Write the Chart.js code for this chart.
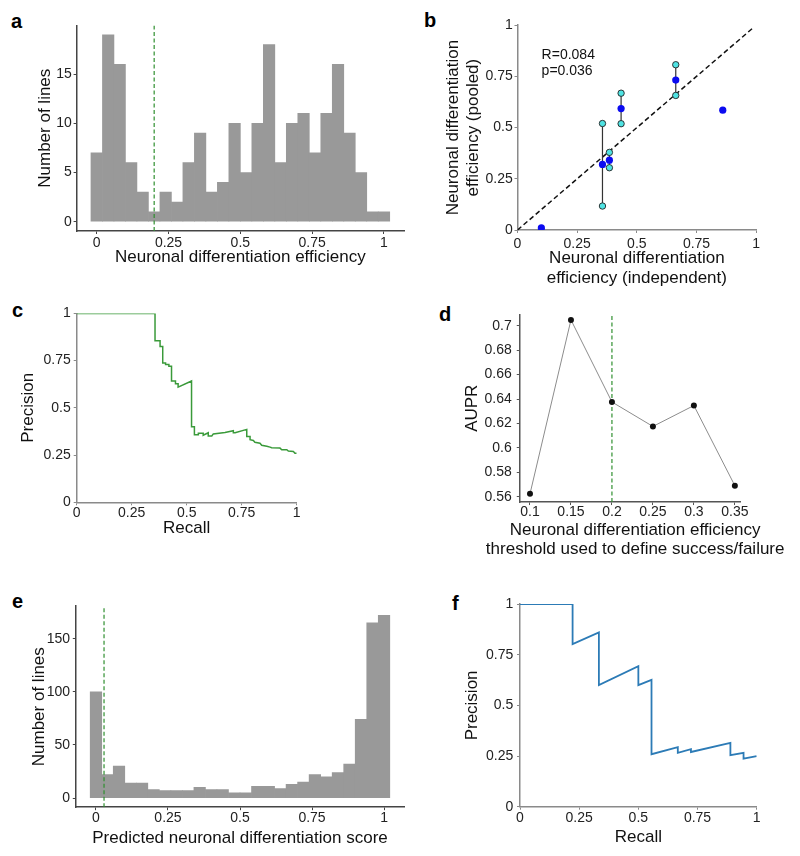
<!DOCTYPE html>
<html><head><meta charset="utf-8">
<script src="https://cdn.jsdelivr.net/npm/chart.js@4.4.1/dist/chart.umd.min.js"></script>
<style>
body{margin:0;background:#fff;}
#wrap{position:relative;width:800px;height:856px;overflow:hidden;background:#fff;}
canvas{position:absolute;}
.lbl{position:absolute;font:bold 20px "Liberation Sans",Arial,sans-serif;line-height:20px;color:#000;}
</style></head><body><div id="wrap">
<div class="lbl" style="left:11px;top:11px">a</div>
<div class="lbl" style="left:424px;top:10px">b</div>
<div class="lbl" style="left:12px;top:300px">c</div>
<div class="lbl" style="left:439px;top:304px">d</div>
<div class="lbl" style="left:12px;top:591px">e</div>
<div class="lbl" style="left:452px;top:593px">f</div>
<canvas id="ca"></canvas><canvas id="cb"></canvas><canvas id="cc"></canvas>
<canvas id="cd"></canvas><canvas id="ce"></canvas><canvas id="cf"></canvas>
</div>
<script>
// ---------------- DATA ----------------
// a: histogram of neuronal differentiation efficiency
const binCenters = [0,0.04,0.08,0.12,0.16,0.2,0.24,0.28,0.32,0.36,0.4,0.44,0.48,0.52,0.56,0.6,0.64,0.68,0.72,0.76,0.8,0.84,0.88,0.92,0.96,1];
const countsA = [7,19,16,6,3,1,3,2,6,9,3,4,10,5,10,18,6,10,11,7,11,16,9,5,1,1];
const thresholdA = 0.2;
const effTicks = [0,0.25,0.5,0.75,1];
const countTicksA = [0,5,10,15];
const rangeAx = [-0.07,1.07];
const rangeAy = [-0.95,19.95];

// b: independent vs pooled
const independentEff = [0.10,0.356,0.385,0.434,0.663,0.86];
const pooledEff      = [0.01,0.32,0.341,0.593,0.732,0.585];
const replicateLow   = [null,0.117,0.304,0.519,0.657,null];
const replicateHigh  = [null,0.52,0.379,0.668,0.807,null];
const identityLine   = [0,0.985];
const statLabels     = ['R=0.084','p=0.036'];
const unitTicks      = [0,0.25,0.5,0.75,1];

// c: precision-recall (green)
const recallC    = [0,0.356,0.356,0.379,0.379,0.391,0.391,0.404,0.404,0.419,0.419,0.431,0.431,0.449,0.449,0.461,0.461,0.522,0.522,0.535,0.535,0.553,0.553,0.575,0.575,0.598,0.598,0.614,0.621,0.674,0.712,0.712,0.720,0.773,0.773,0.788,0.788,0.803,0.810,0.833,0.841,0.864,0.879,0.886,0.924,0.932,0.955,0.962,0.985,0.992,1.0];
const precisionC = [1,1,0.855,0.855,0.825,0.825,0.737,0.737,0.729,0.729,0.72,0.72,0.642,0.642,0.627,0.627,0.61,0.642,0.40,0.40,0.358,0.358,0.365,0.365,0.355,0.368,0.351,0.351,0.362,0.370,0.379,0.368,0.368,0.386,0.348,0.348,0.331,0.327,0.318,0.313,0.302,0.297,0.292,0.289,0.287,0.278,0.278,0.271,0.269,0.26,0.26];

// d: AUPR vs threshold
const thresholds = [0.1,0.15,0.2,0.25,0.3,0.35];
const aupr = [0.5624,0.7048,0.6376,0.6176,0.6347,0.5691];
const thresholdD = 0.2;
const auprTicks = [0.56,0.58,0.6,0.62,0.64,0.66,0.68,0.7];
const threshTicks = [0.1,0.15,0.2,0.25,0.3,0.35];
const rangeDx = [0.0875,0.357];
const rangeDy = [0.5557,0.7093];
const titleDx = ['Neuronal differentiation efficiency','threshold used to define success/failure'];

// e: histogram of predicted score
const countsE = [100,22,30,14,14,8,7,7,7,10,8,8,5,5,11,11,9,13,15,22,20,24,32,74,165,172];
const thresholdE = 0.028;
const countTicksE = [0,50,100,150];
const rangeEy = [-8.6,180.6];

// f: precision-recall (blue)
const recallF    = [0,0.2222,0.2222,0.3333,0.3333,0.5,0.5,0.5556,0.5556,0.6667,0.6667,0.7222,0.7222,0.8889,0.8889,0.9444,0.9444,1.0];
const precisionF = [1,1,0.803,0.86,0.60,0.693,0.60,0.626,0.259,0.294,0.266,0.284,0.27,0.315,0.254,0.266,0.237,0.25];

// ---------------- HELPERS ----------------
const FONT = '"Liberation Sans", Arial, Helvetica, sans-serif';
Chart.defaults.font.family = FONT;
Chart.defaults.color = '#222';
Chart.defaults.animation = false;

function place(id, g) {
  const c = document.getElementById(id);
  const cl = Math.round(g.L - g.yW), ct = Math.round(g.T - g.padT);
  const w = Math.round(g.R + g.padR - cl), h = Math.round(g.B + g.xH - ct);
  c.width = w; c.height = h;
  c.style.left = cl + 'px'; c.style.top = ct + 'px';
  c.style.width = w + 'px'; c.style.height = h + 'px';
  g.yWe = g.L - cl; g.padTe = g.T - ct; g.padRe = (cl + w) - g.R; g.xHe = (ct + h) - g.B;
  return c;
}
function axis(o) {
  return {
    type: 'linear', min: o.min, max: o.max, offset: false, bounds: 'data',
    afterBuildTicks: s => { s.ticks = o.ticks.map(v => ({value: v})); },
    afterFit: s => { if (o.isX) s.height = o.size; else s.width = o.size; },
    ticks: { autoSkip: false, maxRotation: 0, minRotation: 0, padding: o.pad, color: '#222',
             font: {size: 14}, callback: v => String(v) },
    grid: { display: true, drawOnChartArea: false, drawTicks: true, tickLength: 3,
            tickWidth: 1, tickColor: o.color, offset: false },
    border: { display: true, color: o.color, width: o.bw || 1.5 },
    title: { display: o.title !== null, text: o.title || '', color: '#111', font: {size: 17}, padding: 0 }
  };
}
function baseOpts(g) {
  return {
    responsive: false, animation: false, devicePixelRatio: 1,
    layout: { padding: { left: 0, top: g.padTe, right: g.padRe, bottom: 0 } },
    plugins: { legend: { display: false }, tooltip: { enabled: false } }
  };
}
const GREEN_DASH = '#2f8f2f';

// ---------------- PANEL A ----------------
(function(){
  const g = {L:76.6, R:404.1, T:25.4, B:231.0, yW:41.8, xH:37.3, padT:10, padR:8};
  const c = place('ca', g);
  const o = baseOpts(g);
  o.scales = {
    x: axis({min:rangeAx[0], max:rangeAx[1], ticks:effTicks, isX:true, size:g.xHe, pad:0.9, color:'#444', title:'Neuronal differentiation efficiency'}),
    y: axis({min:rangeAy[0], max:rangeAy[1], ticks:countTicksA, size:g.yWe, pad:1.9, color:'#444', title:'Number of lines'})
  };
  new Chart(c, { type: 'bar', data: { datasets: [
    { type:'line', order:0, data:[{x:thresholdA,y:rangeAy[0]},{x:thresholdA,y:rangeAy[1]}],
      borderColor:GREEN_DASH, borderWidth:1.2, borderDash:[4,2.5], pointRadius:0 },
    { type:'bar', order:1, data: binCenters.map((x,i)=>({x, y:countsA[i]})),
      backgroundColor:'#999999', borderWidth:0, barPercentage:1, categoryPercentage:1 }
  ]}, options: o });
})();

// ---------------- PANEL B ----------------
(function(){
  const g = {L:517.5, R:756.2, T:25, B:230, yW:74.7, xH:58.9, padT:10, padR:10};
  const c = place('cb', g);
  const o = baseOpts(g);
  o.scales = {
    x: axis({min:0, max:1, ticks:unitTicks, isX:true, size:g.xHe, pad:3.1, color:'#8a8a8a',
             title:['Neuronal differentiation','efficiency (independent)']}),
    y: axis({min:0, max:1, ticks:unitTicks, size:g.yWe, pad:1.8, color:'#8a8a8a',
             title:['Neuronal differentiation','efficiency (pooled)']})
  };
  const ds = [];
  ds.push({ order:10, showLine:true, data: identityLine.map(v=>({x:v,y:v})),
            borderColor:'#111', borderWidth:1.5, borderDash:[5,3], pointRadius:0 });
  independentEff.forEach((x,i) => {
    if (replicateLow[i] === null) return;
    ds.push({ order:5, showLine:true, data:[{x, y:replicateLow[i]},{x, y:replicateHigh[i]}],
              borderColor:'#333', borderWidth:1.2, pointRadius:0 });
  });
  const cyan = [];
  independentEff.forEach((x,i) => { if (replicateLow[i] !== null) { cyan.push({x,y:replicateLow[i]}); cyan.push({x,y:replicateHigh[i]}); } });
  ds.push({ order:2, data:cyan, backgroundColor:'#4fe3e3', borderColor:'#222', borderWidth:0.9, pointRadius:3.2 });
  ds.push({ order:1, data: independentEff.map((x,i)=>({x, y:pooledEff[i]})),
            backgroundColor:'#0b0bf0', borderColor:'#0b0bf0', borderWidth:0, pointRadius:3.6 });
  const statPlugin = {
    id:'statText',
    afterDatasetsDraw(chart) {
      const {ctx, scales:{x, y}} = chart;
      const pos = [[0.101,0.855],[0.101,0.777]];
      ctx.save(); ctx.font = '14px ' + FONT; ctx.fillStyle = '#111';
      ctx.textAlign = 'left'; ctx.textBaseline = 'middle';
      statLabels.forEach((t,i) => ctx.fillText(t, x.getPixelForValue(pos[i][0]), y.getPixelForValue(pos[i][1])));
      ctx.restore();
    }
  };
  new Chart(c, { type:'scatter', data:{datasets:ds}, options:o, plugins:[statPlugin] });
})();

// ---------------- PANEL C ----------------
(function(){
  const g = {L:76.7, R:296.7, T:311.7, B:502.3, yW:58.6, xH:36.5, padT:10, padR:10};
  const c = place('cc', g);
  const o = baseOpts(g);
  o.scales = {
    x: axis({min:0, max:1, ticks:unitTicks, isX:true, size:g.xHe, pad:-0.4, color:'#8a8a8a', title:'Recall'}),
    y: axis({min:0, max:1, ticks:unitTicks, size:g.yWe, pad:3, color:'#8a8a8a', title:'Precision'})
  };
  new Chart(c, { type:'scatter', data:{datasets:[
    { showLine:true, data: recallC.map((x,i)=>({x, y:precisionC[i]})), borderColor:'#3a9a3a',
      borderWidth:1.5, pointRadius:0, tension:0 }
  ]}, options:o });
})();

// ---------------- PANEL D ----------------
(function(){
  const g = {L:519.75, R:740.6, T:310.7, B:502.06, yW:58.25, xH:58.5, padT:10, padR:50};
  const c = place('cd', g);
  const o = baseOpts(g);
  o.scales = {
    x: axis({min:rangeDx[0], max:rangeDx[1], ticks:threshTicks, isX:true, size:g.xHe, pad:-1.5, color:'#555', title:null}),
    y: axis({min:rangeDy[0], max:rangeDy[1], ticks:auprTicks, size:g.yWe, pad:5, color:'#555', title:'AUPR'})
  };
  // wide two-line x title (wider than the axis, so drawn without width squeeze)
  const wideTitle = {
    id:'wideTitle',
    afterDraw(chart) {
      const {ctx, scales:{x}} = chart;
      const cx = (x.left + x.right) / 2 + 5;
      ctx.save(); ctx.font = '17px ' + FONT; ctx.fillStyle = '#111';
      ctx.textAlign = 'center'; ctx.textBaseline = 'middle';
      titleDx.forEach((t,i) => ctx.fillText(t, cx, x.bottom - 30.6 + i * 19.4));
      ctx.restore();
    }
  };
  new Chart(c, { type:'scatter', data:{datasets:[
    { order:0, showLine:true, data: thresholds.map((x,i)=>({x, y:aupr[i]})), borderColor:'#8c8c8c',
      borderWidth:1, pointRadius:3, pointBackgroundColor:'#111', pointBorderColor:'#111', pointBorderWidth:0 },
    { order:1, showLine:true, data:[{x:thresholdD,y:rangeDy[0]},{x:thresholdD,y:rangeDy[1]}],
      borderColor:GREEN_DASH, borderWidth:1.2, borderDash:[4,2.5], pointRadius:0 }
  ]}, options:o, plugins:[wideTitle] });
})();

// ---------------- PANEL E ----------------
(function(){
  const g = {L:75.8, R:404.2, T:605.0, B:807.2, yW:47, xH:41.3, padT:10, padR:8};
  const c = place('ce', g);
  const o = baseOpts(g);
  o.scales = {
    x: axis({min:rangeAx[0], max:rangeAx[1], ticks:effTicks, isX:true, size:g.xHe, pad:-0.3, color:'#444', title:'Predicted neuronal differentiation score'}),
    y: axis({min:rangeEy[0], max:rangeEy[1], ticks:countTicksE, size:g.yWe, pad:2.8, color:'#444', title:'Number of lines'})
  };
  new Chart(c, { type: 'bar', data: { datasets: [
    { type:'line', order:0, data:[{x:thresholdE,y:rangeEy[0]},{x:thresholdE,y:rangeEy[1]}],
      borderColor:GREEN_DASH, borderWidth:1.2, borderDash:[4,2.5], pointRadius:0 },
    { type:'bar', order:1, data: binCenters.map((x,i)=>({x, y:countsE[i]})),
      backgroundColor:'#999999', borderWidth:0, barPercentage:1, categoryPercentage:1 }
  ]}, options: o });
})();

// ---------------- PANEL F ----------------
(function(){
  const g = {L:520, R:756.7, T:602.3, B:806.7, yW:58.5, xH:41.2, padT:10, padR:10};
  const c = place('cf', g);
  const o = baseOpts(g);
  o.scales = {
    x: axis({min:0, max:1, ticks:unitTicks, isX:true, size:g.xHe, pad:0.2, color:'#8a8a8a', title:'Recall'}),
    y: axis({min:0, max:1, ticks:unitTicks, size:g.yWe, pad:3.7, color:'#8a8a8a', title:'Precision'})
  };
  new Chart(c, { type:'scatter', data:{datasets:[
    { showLine:true, data: recallF.map((x,i)=>({x, y:precisionF[i]})), borderColor:'#2c7bb6',
      borderWidth:1.8, pointRadius:0, tension:0 }
  ]}, options:o });
})();
</script>
</body></html>
